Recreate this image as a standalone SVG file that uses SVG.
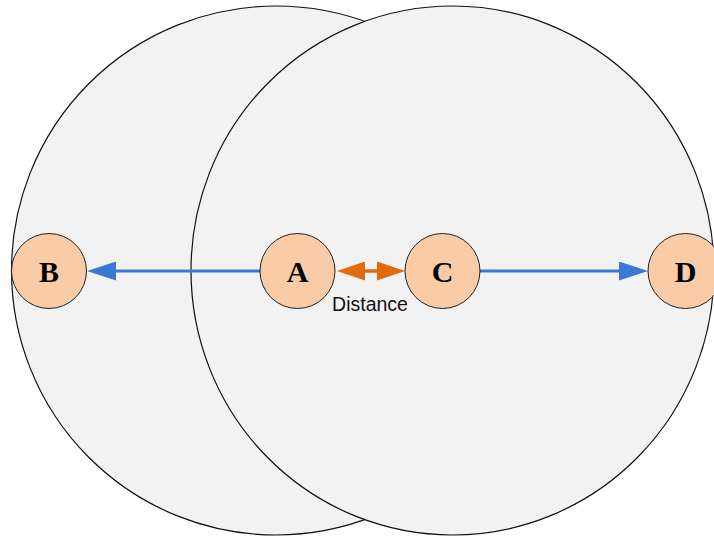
<svg xmlns="http://www.w3.org/2000/svg" width="714" height="538" viewBox="0 0 714 538">
  <style>
    .range { fill: #f2f2f2; stroke: #111; stroke-width: 1.2; }
    .node circle { fill: #f9cba7; stroke: #222; stroke-width: 1; }
    .node text { font-family: "Liberation Serif", "Times New Roman", serif; font-weight: bold; font-size: 30px; fill: #000; text-anchor: middle; }
    .link { stroke: #3a78d6; stroke-width: 3; fill: none; }
    .gap { stroke: #e06a0e; stroke-width: 3.5; fill: none; }
    .label { font-family: "Liberation Sans", Arial, sans-serif; font-size: 19.5px; fill: #111; text-anchor: middle; }
  </style>
  <defs>
    <marker id="blueHead" markerUnits="userSpaceOnUse" viewBox="0 0 29 19" markerWidth="29" markerHeight="19" refX="0" refY="9.5" orient="auto">
      <path d="M0,0 L29,9.5 L0,19 z" fill="#3a78d6"/>
    </marker>
    <marker id="orangeHead" markerUnits="userSpaceOnUse" viewBox="0 0 28 19" markerWidth="28" markerHeight="19" refX="0" refY="9.5" orient="auto-start-reverse">
      <path d="M0,0 L28,9.5 L0,19 z" fill="#e06a0e"/>
    </marker>
  </defs>

  <!-- coverage ranges -->
  <g id="range-A">
    <ellipse class="range" cx="276" cy="270.5" rx="264.5" ry="264.5"/>
  </g>
  <g id="range-C">
    <ellipse class="range" cx="452.5" cy="270.5" rx="261.5" ry="264.5"/>
  </g>

  <!-- connectors -->
  <g id="connectors">
    <line class="link" x1="260" y1="271" x2="116" y2="271" marker-end="url(#blueHead)"/>
    <line class="link" x1="480" y1="271" x2="619" y2="271" marker-end="url(#blueHead)"/>
    <line class="gap" x1="365" y1="271" x2="377" y2="271" marker-start="url(#orangeHead)" marker-end="url(#orangeHead)"/>
    <text class="label" x="370" y="311">Distance</text>
  </g>

  <!-- nodes -->
  <g id="node-B" class="node">
    <circle cx="49" cy="271" r="37.5"/>
    <text x="49" y="281.5">B</text>
  </g>
  <g id="node-A" class="node">
    <circle cx="297.5" cy="271" r="37.5"/>
    <text x="297.5" y="281.5">A</text>
  </g>
  <g id="node-C" class="node">
    <circle cx="442.5" cy="271" r="37.5"/>
    <text x="442.5" y="281.5">C</text>
  </g>
  <g id="node-D" class="node">
    <circle cx="685.5" cy="271" r="37.5"/>
    <text x="685.5" y="281.5">D</text>
  </g>
</svg>
